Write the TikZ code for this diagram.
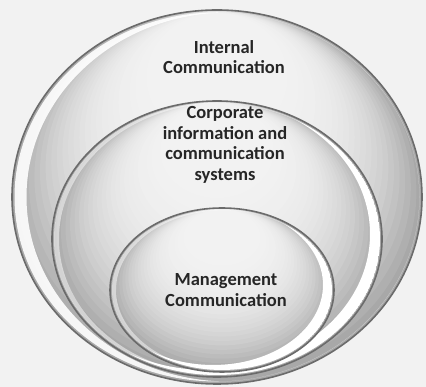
\documentclass[tikz,border=0pt]{standalone}
\usepackage{fontspec}
\setmainfont{Carlito}
\usetikzlibrary{shapes.geometric}

% layered fill for an orb: grey at the rim, light toward the upper middle
% #1,#2 centre  #3,#4 radii
\newcommand\orbfill[4]{%
  \foreach \i in {0,...,30}{%
    \pgfmathsetmacro\tt{\i/30}%
    \pgfmathsetmacro\ss{1-0.82*\tt}%
    \pgfmathsetmacro\dy{0.8*#4*\tt}%
    \pgfmathsetmacro\ww{66+29*(1-(1-\tt)^3)}%
    \fill[white!\ww!black] (#1,#2+\dy) ellipse[x radius=#3*\ss, y radius=#4*\ss];
  }}

% white crescent just inside an orb's edge
% #1,#2 centre  #3,#4 radii  #5,#6 offset of the cut-out  #7 opacity
\newcommand\orbrim[7]{%
  \begin{scope}
    \clip (#1,#2) ellipse[x radius=#3, y radius=#4];
    \fill[white, opacity=#7, even odd rule]
      (#1,#2) ellipse[x radius=#3, y radius=#4]
      (#1+#5,#2+#6) ellipse[x radius=#3, y radius=#4];
  \end{scope}}

\begin{document}
\begin{tikzpicture}[x=1pt,y=1pt,
  orb/.style={ellipse, inner sep=0pt, draw=black!58, line width=1.6pt},
  txt/.style={font=\bfseries\fontsize{18.5}{20.5}\selectfont, text=black!85, align=center}]

% page background and bounding box
\fill[white!95!black] (0,0) rectangle (426,387);
\useasboundingbox (0,0) rectangle (426,387);

% outer orb
\orbfill{217}{190}{205}{187}
\node[orb, minimum width=410pt, minimum height=374pt] (outer) at (217,190) {};
\orbrim{217}{190}{202.5}{184.5}{12}{0}{0.9}

% middle orb
\orbfill{217}{148}{165}{138}
\node[orb, minimum width=330pt, minimum height=276pt] (middle) at (217,148) {};
\orbrim{217}{148}{163}{136}{5}{0}{0.5}
\orbrim{217}{148}{163}{136}{-10}{5}{1}

% inner orb
\orbfill{222}{97}{112}{82}
\node[orb, minimum width=224pt, minimum height=164pt] (inner) at (222,97) {};
\orbrim{222}{97}{110}{80}{4}{0}{0.5}
\orbrim{222}{97}{110}{80}{-9}{5}{1}

% labels
\node[txt] (tInt) at (224,330) {Internal\\Communication};
\node[txt] (tCorp) at (225,242) {Corporate\\information and\\communication\\systems};
\node[txt] (tMgmt) at (226,97) {Management\\Communication};
\end{tikzpicture}
\end{document}
